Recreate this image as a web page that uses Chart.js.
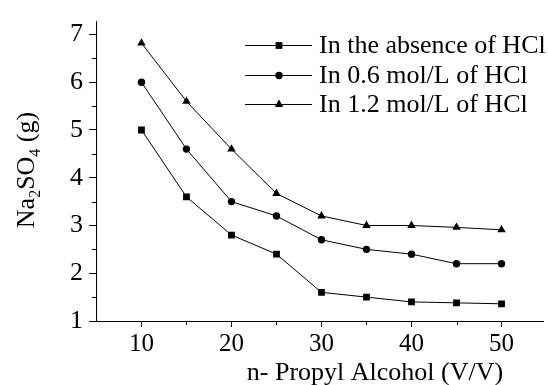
<!DOCTYPE html>
<html>
<head>
<meta charset="utf-8">
<script src="https://cdn.jsdelivr.net/npm/chart.js@4"></script>
<style>
html,body{margin:0;padding:0;background:#fff;}
#wrap{width:548px;height:385px;}
</style>
</head>
<body>
<div id="wrap"><canvas id="c" width="548" height="385"></canvas></div>
<script>
const xValues = [10, 15, 20, 25, 30, 35, 40, 45, 50];
const absenceHCl = [5.0, 3.6, 2.8, 2.4, 1.6, 1.5, 1.4, 1.38, 1.36];
const hcl06 = [6.0, 4.6, 3.5, 3.2, 2.7, 2.5, 2.4, 2.2, 2.2];
const hcl12 = [6.82, 5.6, 4.6, 3.67, 3.2, 3.0, 3.0, 2.96, 2.91];
const seriesLabels = ["In the absence of HCl", "In 0.6 mol/L of HCl", "In 1.2 mol/L of HCl"];
const xTickValues = [10, 20, 30, 40, 50];
const xMinorTicks = [15, 25, 35, 45];
const yTickValues = [1, 2, 3, 4, 5, 6, 7];
const yMinorTicks = [1.5, 2.5, 3.5, 4.5, 5.5, 6.5];
const xTitle = "n- Propyl Alcohol (V/V)";

const FONT = "'Liberation Serif', 'Times New Roman', serif";
const pts = arr => arr.map((v, i) => ({x: xValues[i], y: v}));
const styles = ['rect', 'circle', 'triangle'];
const radii = [4.8, 3.7, 4.9];

const minorTicks = {
  id: 'minorTicks',
  afterDraw(chart) {
    const ctx = chart.ctx, xs = chart.scales.x, ys = chart.scales.y;
    ctx.save();
    ctx.strokeStyle = '#000'; ctx.lineWidth = 1;
    ctx.beginPath();
    xMinorTicks.forEach(v => {
      const px = Math.round(xs.getPixelForValue(v)) + 0.5;
      ctx.moveTo(px, ys.bottom); ctx.lineTo(px, ys.bottom + 4);
    });
    yMinorTicks.forEach(v => {
      const py = Math.round(ys.getPixelForValue(v)) + 0.5;
      ctx.moveTo(xs.left, py); ctx.lineTo(xs.left - 4, py);
    });
    ctx.stroke();
    ctx.restore();
  }
};

function drawMarker(ctx, style, x, y, r) {
  ctx.beginPath();
  if (style === 'rect') {
    const s = r * Math.SQRT1_2;
    ctx.rect(x - s, y - s, 2 * s, 2 * s);
  } else if (style === 'circle') {
    ctx.arc(x, y, r, 0, Math.PI * 2);
  } else {
    const w = r * Math.sqrt(3);
    ctx.moveTo(x, y - r);
    ctx.lineTo(x + w / 2, y + r / 2);
    ctx.lineTo(x - w / 2, y + r / 2);
    ctx.closePath();
  }
  ctx.fill();
}

const customLegend = {
  id: 'customLegend',
  afterDraw(chart) {
    const ctx = chart.ctx;
    ctx.save();
    ctx.font = "26px " + FONT;
    ctx.fillStyle = '#000'; ctx.strokeStyle = '#000'; ctx.lineWidth = 1;
    ctx.textBaseline = 'middle';
    const rows = [45, 75, 104];
    chart.data.datasets.forEach((ds, i) => {
      const y = rows[i] + 0.5;
      ctx.beginPath(); ctx.moveTo(245, y); ctx.lineTo(312, y); ctx.stroke();
      drawMarker(ctx, styles[i], 279, y, radii[i]);
      ctx.fillText(ds.label, 319, rows[i] + 1);
    });
    ctx.restore();
  }
};

const axisTitles = {
  id: 'axisTitles',
  afterDraw(chart) {
    const ctx = chart.ctx;
    ctx.save();
    ctx.fillStyle = '#000';
    ctx.font = "26px " + FONT;
    ctx.textAlign = 'center'; ctx.textBaseline = 'alphabetic';
    ctx.fillText(xTitle, 375, 380);
    const parts = [["Na", 0], ["2", 1], ["SO", 0], ["4", 1], [" (g)", 0]];
    const big = "26px " + FONT, small = "16px " + FONT;
    let total = 0;
    parts.forEach(p => { ctx.font = p[1] ? small : big; total += ctx.measureText(p[0]).width; });
    ctx.translate(34, 170);
    ctx.rotate(-Math.PI / 2);
    ctx.textAlign = 'left';
    let cx = -total / 2;
    parts.forEach(p => {
      ctx.font = p[1] ? small : big;
      ctx.fillText(p[0], cx, p[1] ? 6 : 0);
      cx += ctx.measureText(p[0]).width;
    });
    ctx.restore();
  }
};

const datasets = [absenceHCl, hcl06, hcl12].map((arr, i) => ({
  label: seriesLabels[i],
  data: pts(arr),
  borderColor: '#000',
  backgroundColor: '#000',
  borderWidth: 1,
  pointStyle: styles[i],
  pointRadius: radii[i],
  pointHoverRadius: radii[i],
  pointBackgroundColor: '#000',
  pointBorderColor: '#000',
  pointBorderWidth: 0,
  tension: 0,
  fill: false
}));

new Chart(document.getElementById('c'), {
  type: 'line',
  data: {datasets},
  options: {
    responsive: false,
    animation: false,
    devicePixelRatio: 1,
    layout: {padding: {top: 14, right: 0, left: 0, bottom: 0}},
    plugins: {legend: {display: false}, tooltip: {enabled: false}},
    scales: {
      x: {
        type: 'linear',
        min: 4.95, max: 54.62,
        afterBuildTicks: s => { s.ticks = xTickValues.map(v => ({value: v})); },
        afterFit: s => { s.height = 64; },
        grid: {drawOnChartArea: false, drawTicks: true, tickLength: 6, tickColor: '#000'},
        border: {color: '#000', width: 1},
        ticks: {color: '#000', font: {family: FONT, size: 25}, padding: 2, maxRotation: 0}
      },
      y: {
        type: 'linear',
        min: 1, max: 7.27,
        afterBuildTicks: s => { s.ticks = yTickValues.map(v => ({value: v})); },
        afterFit: s => { s.width = 96; },
        grid: {drawOnChartArea: false, drawTicks: true, tickLength: 7, tickColor: '#000'},
        border: {color: '#000', width: 1},
        ticks: {color: '#000', font: {family: FONT, size: 26}, padding: 6}
      }
    }
  },
  plugins: [minorTicks, customLegend, axisTitles]
});
</script>
</body>
</html>
